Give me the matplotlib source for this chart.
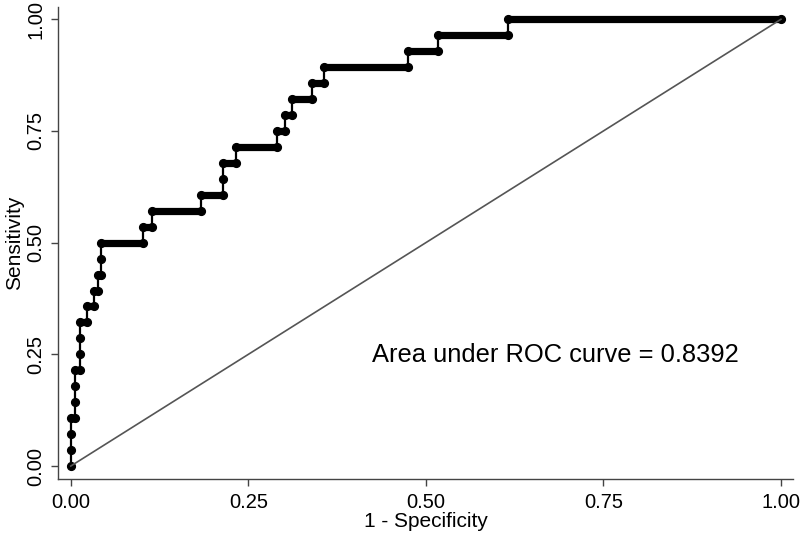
import matplotlib
matplotlib.use('Agg')
import matplotlib.pyplot as plt

# ROC vertices: 1 - specificity and number of true positives (of 28)
fpr = [0, 0, 0, 0,
       0.006, 0.006, 0.006, 0.006,
       0.0135, 0.0135, 0.0135, 0.0135,
       0.0225, 0.0225,
       0.033, 0.033,
       0.039, 0.039,
       0.043, 0.043, 0.043,
       0.101, 0.101,
       0.115, 0.115,
       0.183, 0.183,
       0.215, 0.215, 0.215,
       0.233, 0.233,
       0.290, 0.290,
       0.302, 0.302,
       0.312, 0.312,
       0.339, 0.339,
       0.357, 0.357,
       0.475, 0.475,
       0.517, 0.517,
       0.615, 0.615,
       1.0]
tp = [0, 1, 2, 3,
      3, 4, 5, 6,
      6, 7, 8, 9,
      9, 10,
      10, 11,
      11, 12,
      12, 13, 14,
      14, 15,
      15, 16,
      16, 17,
      17, 18, 19,
      19, 20,
      20, 21,
      21, 22,
      22, 23,
      23, 24,
      24, 25,
      25, 26,
      26, 27,
      27, 28,
      28]
n_pos = 28
auc = 0.8392
ticks = [0, 0.25, 0.5, 0.75, 1.0]

tpr = [t / n_pos for t in tp]

plt.rcParams['font.family'] = ['Liberation Sans', 'DejaVu Sans']
fig = plt.figure(figsize=(8, 5.35), dpi=100)
ax = fig.add_axes([58 / 800, 1 - 479 / 535, (793 - 58) / 800, (479 - 7) / 535])

# step curve
ax.plot(fpr, tpr, color='black', lw=1.6, zorder=2)
# runs of cutoffs with the same sensitivity show as thick bars of markers
for i in range(len(fpr) - 1):
    if tp[i] == tp[i + 1]:
        ax.plot([fpr[i], fpr[i + 1]], [tpr[i], tpr[i]], color='black', lw=5.2,
                solid_capstyle='round', zorder=3)
ax.plot(fpr, tpr, 'o', color='black', ms=5.6, zorder=3)

# reference line
ax.plot([0, 1], [0, 1], color='#555555', lw=1.2, zorder=4)

ax.set_xlim(-0.018, 1.017)
ax.set_ylim(-0.029, 1.0275)
ax.set_xticks(ticks)
ax.set_yticks(ticks)
ax.set_xticklabels([f'{t:.2f}' for t in ticks])
ax.set_yticklabels([f'{t:.2f}' for t in ticks], rotation=90, va='center')

for s in ['top', 'right']:
    ax.spines[s].set_visible(False)
for s in ['left', 'bottom']:
    ax.spines[s].set_color('#444444')
    ax.spines[s].set_linewidth(1.0)
ax.tick_params(direction='out', length=5, width=1, color='#444444', labelsize=14.5)
ax.tick_params(axis='x', pad=5)
ax.tick_params(axis='y', pad=4)

ax.set_xlabel('1 - Specificity', fontsize=15, labelpad=0)
ax.set_ylabel('Sensitivity', fontsize=15, labelpad=2)

ax.text(0.424, 0.248, f'Area under ROC curve = {auc:.4f}', fontsize=18.4, va='center')

fig.savefig('out.png', dpi=100)
